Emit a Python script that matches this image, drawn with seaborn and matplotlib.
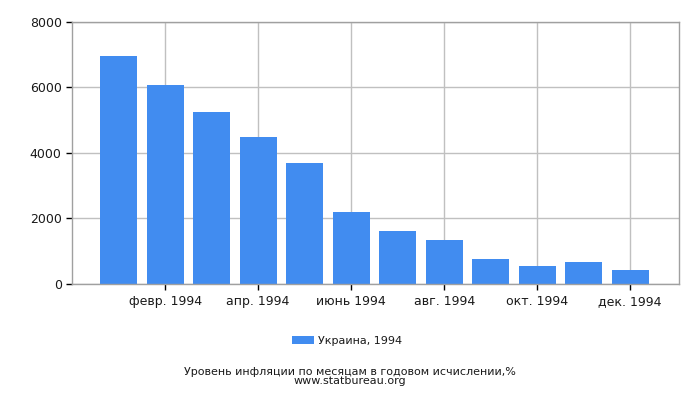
import pandas as pd
import numpy as np
import matplotlib
matplotlib.use('Agg')
import matplotlib.pyplot as plt
import seaborn as sns

# Données
mois = ['янв. 1994', 'февр. 1994', 'март 1994', 'апр. 1994', 'май 1994', 'июнь 1994',
        'июль 1994', 'авг. 1994', 'сент. 1994', 'окт. 1994', 'нояб. 1994', 'дек. 1994']
inflation = [6970, 6085, 5255, 4490, 3690, 2190, 1610, 1335, 750, 535, 660, 415]
serie = 'Украина, 1994'
titre = 'Уровень инфляции по месяцам в годовом исчислении,%\nwww.statbureau.org'

sns.set_theme(style='white')
plt.rcParams['font.family'] = ['DejaVu Sans']

df = pd.DataFrame({'mois': mois, 'inflation': inflation})

fig = plt.figure(figsize=(7, 4), dpi=100)
ax = fig.add_axes([0.103, 0.291, 0.867, 0.654])

sns.barplot(data=df, x='mois', y='inflation', color='#418CF0', saturation=1,
            width=0.8, linewidth=0, ax=ax, label=serie)

ax.set_xlim(-1, 12.05)
ax.set_ylim(0, 8000)
ax.set_yticks([0, 2000, 4000, 6000, 8000])
ax.set_xticks(range(1, 12, 2))
ax.set_xticklabels([mois[i] for i in range(1, 12, 2)])
ax.set_xlabel('')
ax.set_ylabel('')

ax.grid(True, color='#c0c0c0', linewidth=1)
ax.set_axisbelow(True)
for s in ax.spines.values():
    s.set_color('#a0a0a0')
    s.set_linewidth(1)
ax.tick_params(axis='both', which='both', length=4, width=1, color='black',
               labelsize=9, labelcolor='#1a1a1a', direction='out',
               bottom=True, left=True)
ax.tick_params(axis='x', pad=4)

leg = ax.legend(loc='center', bbox_to_anchor=(0.453, -0.22), frameon=False,
                fontsize=8, handlelength=2.0, handleheight=0.72,
                handletextpad=0.35, borderaxespad=0)
for t in leg.get_texts():
    t.set_color('#1a1a1a')

fig.text(0.5, 0.059, titre, ha='center', va='center', fontsize=8,
         color='#1a1a1a', linespacing=0.95, multialignment='center')

plt.savefig('out.png', dpi=100)
plt.close()
